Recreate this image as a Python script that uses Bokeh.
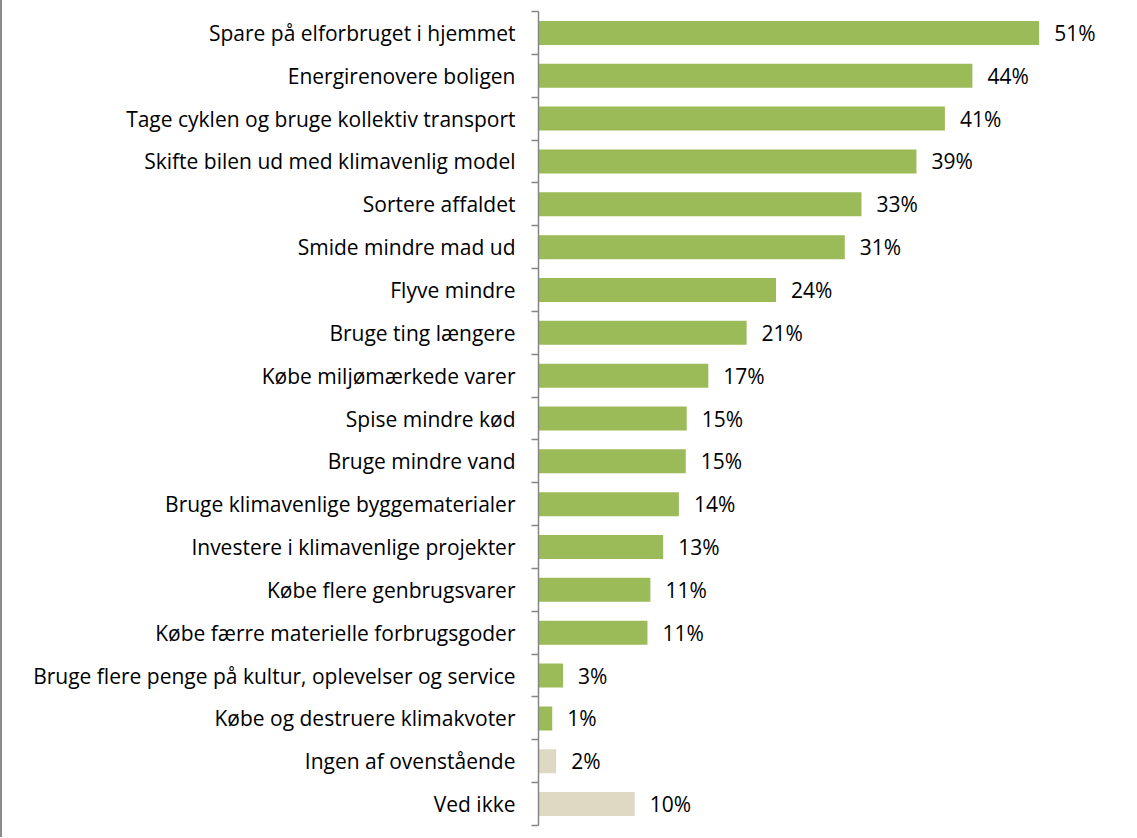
from bokeh.plotting import figure
from bokeh.models import Range1d, FixedTicker, ColumnDataSource, LabelSet
from bokeh.embed import file_html
from bokeh.resources import INLINE
from bokeh.core.properties import value

categories = [
    "Spare på elforbruget i hjemmet",
    "Energirenovere boligen",
    "Tage cyklen og bruge kollektiv transport",
    "Skifte bilen ud med klimavenlig model",
    "Sortere affaldet",
    "Smide mindre mad ud",
    "Flyve mindre",
    "Bruge ting længere",
    "Købe miljømærkede varer",
    "Spise mindre kød",
    "Bruge mindre vand",
    "Bruge klimavenlige byggematerialer",
    "Investere i klimavenlige projekter",
    "Købe flere genbrugsvarer",
    "Købe færre materielle forbrugsgoder",
    "Bruge flere penge på kultur, oplevelser og service",
    "Købe og destruere klimakvoter",
    "Ingen af ovenstående",
    "Ved ikke",
]
values = [51.0, 44.2, 41.4, 38.5, 32.9, 31.2, 24.2, 21.2, 17.3, 15.1, 15.0,
          14.3, 12.7, 11.4, 11.1, 2.5, 1.4, 1.8, 9.8]
value_labels = ["51%", "44%", "41%", "39%", "33%", "31%", "24%", "21%", "17%",
                "15%", "15%", "14%", "13%", "11%", "11%", "3%", "1%", "2%", "10%"]
groups = ["action"] * 17 + ["other"] * 2

GREEN = "#9BBB59"
BEIGE = "#DDD9C3"
FONT = "Open Sans"
FSIZE = "21px"

n = len(categories)
centers = [i + 0.5 for i in range(n)]
bounds = [float(i) for i in range(n + 1)]
colors = [GREEN if g == "action" else BEIGE for g in groups]

src = ColumnDataSource(dict(y=centers, v=values, lab=value_labels, c=colors))

p = figure(width=1134, height=837, output_backend="svg", toolbar_location=None,
           x_range=Range1d(0, 60), y_range=Range1d(n, 0),
           min_border_left=536, min_border_right=9,
           min_border_top=11, min_border_bottom=12)
p.styles = {"border-left": "2px solid #8c8c8c"}
p.outline_line_color = None
p.grid.visible = False
p.xaxis.visible = False
p.background_fill_color = "white"
p.border_fill_color = "white"

p.hbar(y="y", right="v", left=0, height=0.56, color="c", line_color=None, source=src)

labels = LabelSet(x="v", y="y", text="lab", source=src, x_offset=15,
                  text_baseline="middle", text_font=value(FONT),
                  text_font_size=FSIZE, text_color="#000000")
p.add_layout(labels)

ax = p.yaxis[0]
ax.ticker = FixedTicker(ticks=centers, minor_ticks=bounds)
ax.major_label_overrides = {c: name for c, name in zip(centers, categories)}
ax.major_tick_line_color = None
ax.major_tick_out = 0
ax.major_tick_in = 0
ax.minor_tick_out = 7
ax.minor_tick_in = 0
ax.minor_tick_line_color = "#868686"
ax.minor_tick_line_width = 1.5
ax.axis_line_color = "#868686"
ax.axis_line_width = 1.5
ax.major_label_standoff = 16
ax.major_label_text_font = FONT
ax.major_label_text_font_size = FSIZE
ax.major_label_text_color = "#000000"

open("out.html", "w").write(file_html(p, INLINE))
